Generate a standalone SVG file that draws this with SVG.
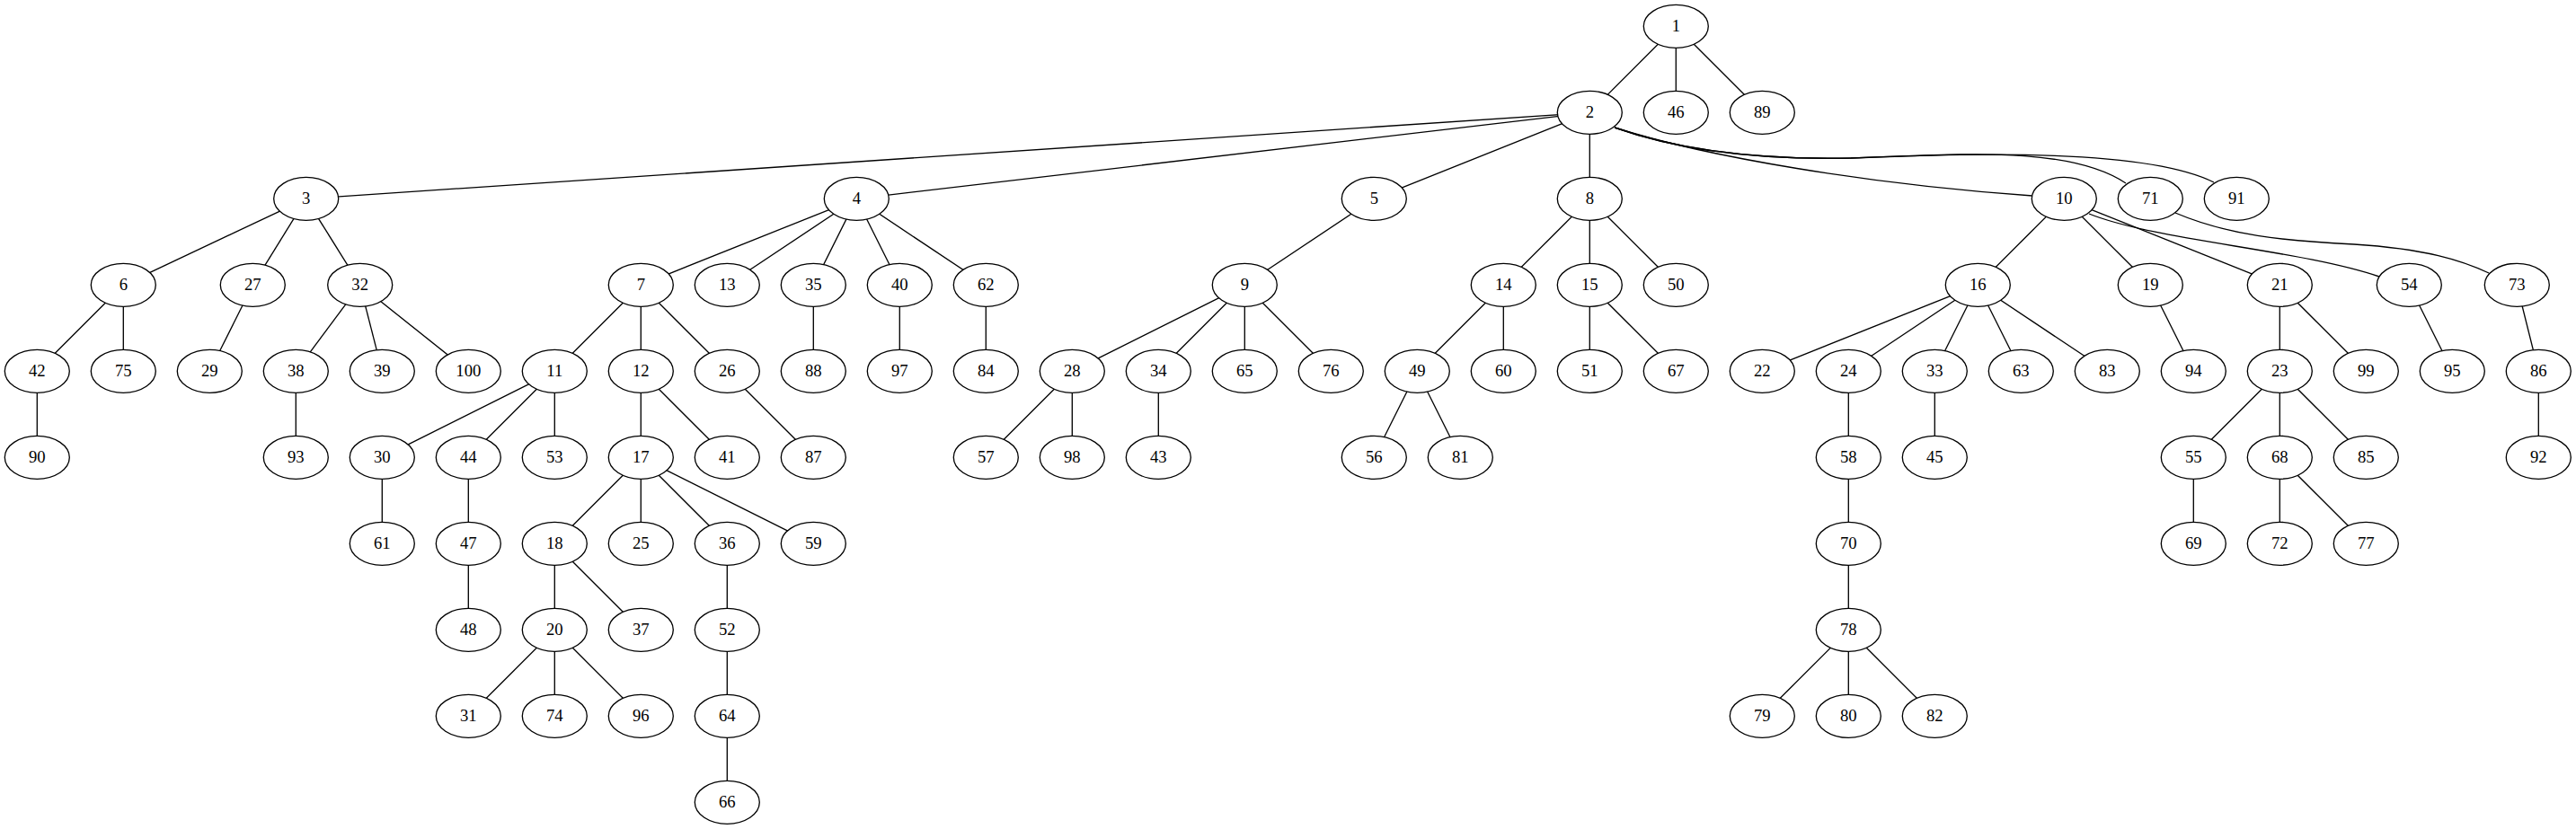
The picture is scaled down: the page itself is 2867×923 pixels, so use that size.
<svg xmlns="http://www.w3.org/2000/svg" width="2867" height="923" viewBox="0 0 2867 923">
<style>
.e line,.e path{stroke:#000;stroke-width:1.33;fill:none}
.n ellipse{fill:#fff;stroke:#000;stroke-width:1.33}
.n text{font-family:"Liberation Serif","Times New Roman",serif;font-size:18.67px;text-anchor:middle;fill:#000}
</style>
<rect width="2867" height="923" fill="#fff"/>
<g id="connectors" class="e">
<line x1="1865.3" y1="29.3" x2="1769.3" y2="125.3"/>
<line x1="1865.3" y1="29.3" x2="1865.3" y2="125.3"/>
<line x1="1865.3" y1="29.3" x2="1961.3" y2="125.3"/>
<line x1="1769.3" y1="125.3" x2="340.7" y2="221.3"/>
<line x1="1769.3" y1="125.3" x2="953.3" y2="221.3"/>
<line x1="1769.3" y1="125.3" x2="1529.3" y2="221.3"/>
<line x1="1769.3" y1="125.3" x2="1769.3" y2="221.3"/>
<path d="M1797,142 C1900,175 2080,205 2262,218"/>
<path d="M1797,142 C1870,168 1960,178 2060,176 C2170,173 2300,160 2366,204"/>
<path d="M1797,142 C1870,168 1960,178 2060,176 C2200,170 2390,166 2464,203"/>
<line x1="340.7" y1="221.3" x2="137.3" y2="317.3"/>
<line x1="340.7" y1="221.3" x2="281.3" y2="317.3"/>
<line x1="340.7" y1="221.3" x2="400.7" y2="317.3"/>
<line x1="953.3" y1="221.3" x2="713.3" y2="317.3"/>
<line x1="953.3" y1="221.3" x2="809.3" y2="317.3"/>
<line x1="953.3" y1="221.3" x2="905.3" y2="317.3"/>
<line x1="953.3" y1="221.3" x2="1001.3" y2="317.3"/>
<line x1="953.3" y1="221.3" x2="1097.3" y2="317.3"/>
<line x1="1529.3" y1="221.3" x2="1385.3" y2="317.3"/>
<line x1="1769.3" y1="221.3" x2="1673.3" y2="317.3"/>
<line x1="1769.3" y1="221.3" x2="1769.3" y2="317.3"/>
<line x1="1769.3" y1="221.3" x2="1865.3" y2="317.3"/>
<line x1="2297.3" y1="221.3" x2="2201.3" y2="317.3"/>
<line x1="2297.3" y1="221.3" x2="2393.3" y2="317.3"/>
<line x1="2297.3" y1="221.3" x2="2537.3" y2="317.3"/>
<path d="M2325,238 C2400,268 2560,278 2648,308"/>
<path d="M2421,237 C2480,262 2540,268 2620,272 C2700,277 2740,290 2770,304"/>
<line x1="137.3" y1="317.3" x2="41.3" y2="413.3"/>
<line x1="137.3" y1="317.3" x2="137.3" y2="413.3"/>
<line x1="281.3" y1="317.3" x2="233.3" y2="413.3"/>
<line x1="400.7" y1="317.3" x2="329.3" y2="413.3"/>
<line x1="400.7" y1="317.3" x2="425.3" y2="413.3"/>
<line x1="400.7" y1="317.3" x2="521.3" y2="413.3"/>
<line x1="713.3" y1="317.3" x2="617.3" y2="413.3"/>
<line x1="713.3" y1="317.3" x2="713.3" y2="413.3"/>
<line x1="713.3" y1="317.3" x2="809.3" y2="413.3"/>
<line x1="905.3" y1="317.3" x2="905.3" y2="413.3"/>
<line x1="1001.3" y1="317.3" x2="1001.3" y2="413.3"/>
<line x1="1097.3" y1="317.3" x2="1097.3" y2="413.3"/>
<line x1="1385.3" y1="317.3" x2="1193.3" y2="413.3"/>
<line x1="1385.3" y1="317.3" x2="1289.3" y2="413.3"/>
<line x1="1385.3" y1="317.3" x2="1385.3" y2="413.3"/>
<line x1="1385.3" y1="317.3" x2="1481.3" y2="413.3"/>
<line x1="1673.3" y1="317.3" x2="1577.3" y2="413.3"/>
<line x1="1673.3" y1="317.3" x2="1673.3" y2="413.3"/>
<line x1="1769.3" y1="317.3" x2="1769.3" y2="413.3"/>
<line x1="1769.3" y1="317.3" x2="1865.3" y2="413.3"/>
<line x1="2201.3" y1="317.3" x2="1961.3" y2="413.3"/>
<line x1="2201.3" y1="317.3" x2="2057.3" y2="413.3"/>
<line x1="2201.3" y1="317.3" x2="2153.3" y2="413.3"/>
<line x1="2201.3" y1="317.3" x2="2249.3" y2="413.3"/>
<line x1="2201.3" y1="317.3" x2="2345.3" y2="413.3"/>
<line x1="2393.3" y1="317.3" x2="2441.3" y2="413.3"/>
<line x1="2537.3" y1="317.3" x2="2537.3" y2="413.3"/>
<line x1="2537.3" y1="317.3" x2="2633.3" y2="413.3"/>
<line x1="2681.3" y1="317.3" x2="2729.3" y2="413.3"/>
<line x1="2801.3" y1="317.3" x2="2825.3" y2="413.3"/>
<line x1="41.3" y1="413.3" x2="41.3" y2="509.3"/>
<line x1="329.3" y1="413.3" x2="329.3" y2="509.3"/>
<line x1="617.3" y1="413.3" x2="425.3" y2="509.3"/>
<line x1="617.3" y1="413.3" x2="521.3" y2="509.3"/>
<line x1="617.3" y1="413.3" x2="617.3" y2="509.3"/>
<line x1="713.3" y1="413.3" x2="713.3" y2="509.3"/>
<line x1="713.3" y1="413.3" x2="809.3" y2="509.3"/>
<line x1="809.3" y1="413.3" x2="905.3" y2="509.3"/>
<line x1="1193.3" y1="413.3" x2="1097.3" y2="509.3"/>
<line x1="1193.3" y1="413.3" x2="1193.3" y2="509.3"/>
<line x1="1289.3" y1="413.3" x2="1289.3" y2="509.3"/>
<line x1="1577.3" y1="413.3" x2="1529.3" y2="509.3"/>
<line x1="1577.3" y1="413.3" x2="1625.3" y2="509.3"/>
<line x1="2057.3" y1="413.3" x2="2057.3" y2="509.3"/>
<line x1="2153.3" y1="413.3" x2="2153.3" y2="509.3"/>
<line x1="2537.3" y1="413.3" x2="2441.3" y2="509.3"/>
<line x1="2537.3" y1="413.3" x2="2537.3" y2="509.3"/>
<line x1="2537.3" y1="413.3" x2="2633.3" y2="509.3"/>
<line x1="2825.3" y1="413.3" x2="2825.3" y2="509.3"/>
<line x1="425.3" y1="509.3" x2="425.3" y2="605.3"/>
<line x1="521.3" y1="509.3" x2="521.3" y2="605.3"/>
<line x1="713.3" y1="509.3" x2="617.3" y2="605.3"/>
<line x1="713.3" y1="509.3" x2="713.3" y2="605.3"/>
<line x1="713.3" y1="509.3" x2="809.3" y2="605.3"/>
<line x1="713.3" y1="509.3" x2="905.3" y2="605.3"/>
<line x1="2057.3" y1="509.3" x2="2057.3" y2="605.3"/>
<line x1="2441.3" y1="509.3" x2="2441.3" y2="605.3"/>
<line x1="2537.3" y1="509.3" x2="2537.3" y2="605.3"/>
<line x1="2537.3" y1="509.3" x2="2633.3" y2="605.3"/>
<line x1="521.3" y1="605.3" x2="521.3" y2="701.3"/>
<line x1="617.3" y1="605.3" x2="617.3" y2="701.3"/>
<line x1="617.3" y1="605.3" x2="713.3" y2="701.3"/>
<line x1="809.3" y1="605.3" x2="809.3" y2="701.3"/>
<line x1="2057.3" y1="605.3" x2="2057.3" y2="701.3"/>
<line x1="617.3" y1="701.3" x2="521.3" y2="797.3"/>
<line x1="617.3" y1="701.3" x2="617.3" y2="797.3"/>
<line x1="617.3" y1="701.3" x2="713.3" y2="797.3"/>
<line x1="809.3" y1="701.3" x2="809.3" y2="797.3"/>
<line x1="2057.3" y1="701.3" x2="1961.3" y2="797.3"/>
<line x1="2057.3" y1="701.3" x2="2057.3" y2="797.3"/>
<line x1="2057.3" y1="701.3" x2="2153.3" y2="797.3"/>
<line x1="809.3" y1="797.3" x2="809.3" y2="893.3"/>
</g>
<g class="n">
<g id="n1"><ellipse cx="1865.3" cy="29.3" rx="36" ry="24"/><text x="1865.3" y="34.8">1</text></g>
<g id="n2"><ellipse cx="1769.3" cy="125.3" rx="36" ry="24"/><text x="1769.3" y="130.8">2</text></g>
<g id="n46"><ellipse cx="1865.3" cy="125.3" rx="36" ry="24"/><text x="1865.3" y="130.8">46</text></g>
<g id="n89"><ellipse cx="1961.3" cy="125.3" rx="36" ry="24"/><text x="1961.3" y="130.8">89</text></g>
<g id="n3"><ellipse cx="340.7" cy="221.3" rx="36" ry="24"/><text x="340.7" y="226.8">3</text></g>
<g id="n4"><ellipse cx="953.3" cy="221.3" rx="36" ry="24"/><text x="953.3" y="226.8">4</text></g>
<g id="n5"><ellipse cx="1529.3" cy="221.3" rx="36" ry="24"/><text x="1529.3" y="226.8">5</text></g>
<g id="n8"><ellipse cx="1769.3" cy="221.3" rx="36" ry="24"/><text x="1769.3" y="226.8">8</text></g>
<g id="n10"><ellipse cx="2297.3" cy="221.3" rx="36" ry="24"/><text x="2297.3" y="226.8">10</text></g>
<g id="n71"><ellipse cx="2393.3" cy="221.3" rx="36" ry="24"/><text x="2393.3" y="226.8">71</text></g>
<g id="n91"><ellipse cx="2489.3" cy="221.3" rx="36" ry="24"/><text x="2489.3" y="226.8">91</text></g>
<g id="n6"><ellipse cx="137.3" cy="317.3" rx="36" ry="24"/><text x="137.3" y="322.8">6</text></g>
<g id="n27"><ellipse cx="281.3" cy="317.3" rx="36" ry="24"/><text x="281.3" y="322.8">27</text></g>
<g id="n32"><ellipse cx="400.7" cy="317.3" rx="36" ry="24"/><text x="400.7" y="322.8">32</text></g>
<g id="n7"><ellipse cx="713.3" cy="317.3" rx="36" ry="24"/><text x="713.3" y="322.8">7</text></g>
<g id="n13"><ellipse cx="809.3" cy="317.3" rx="36" ry="24"/><text x="809.3" y="322.8">13</text></g>
<g id="n35"><ellipse cx="905.3" cy="317.3" rx="36" ry="24"/><text x="905.3" y="322.8">35</text></g>
<g id="n40"><ellipse cx="1001.3" cy="317.3" rx="36" ry="24"/><text x="1001.3" y="322.8">40</text></g>
<g id="n62"><ellipse cx="1097.3" cy="317.3" rx="36" ry="24"/><text x="1097.3" y="322.8">62</text></g>
<g id="n9"><ellipse cx="1385.3" cy="317.3" rx="36" ry="24"/><text x="1385.3" y="322.8">9</text></g>
<g id="n14"><ellipse cx="1673.3" cy="317.3" rx="36" ry="24"/><text x="1673.3" y="322.8">14</text></g>
<g id="n15"><ellipse cx="1769.3" cy="317.3" rx="36" ry="24"/><text x="1769.3" y="322.8">15</text></g>
<g id="n50"><ellipse cx="1865.3" cy="317.3" rx="36" ry="24"/><text x="1865.3" y="322.8">50</text></g>
<g id="n16"><ellipse cx="2201.3" cy="317.3" rx="36" ry="24"/><text x="2201.3" y="322.8">16</text></g>
<g id="n19"><ellipse cx="2393.3" cy="317.3" rx="36" ry="24"/><text x="2393.3" y="322.8">19</text></g>
<g id="n21"><ellipse cx="2537.3" cy="317.3" rx="36" ry="24"/><text x="2537.3" y="322.8">21</text></g>
<g id="n54"><ellipse cx="2681.3" cy="317.3" rx="36" ry="24"/><text x="2681.3" y="322.8">54</text></g>
<g id="n73"><ellipse cx="2801.3" cy="317.3" rx="36" ry="24"/><text x="2801.3" y="322.8">73</text></g>
<g id="n42"><ellipse cx="41.3" cy="413.3" rx="36" ry="24"/><text x="41.3" y="418.8">42</text></g>
<g id="n75"><ellipse cx="137.3" cy="413.3" rx="36" ry="24"/><text x="137.3" y="418.8">75</text></g>
<g id="n29"><ellipse cx="233.3" cy="413.3" rx="36" ry="24"/><text x="233.3" y="418.8">29</text></g>
<g id="n38"><ellipse cx="329.3" cy="413.3" rx="36" ry="24"/><text x="329.3" y="418.8">38</text></g>
<g id="n39"><ellipse cx="425.3" cy="413.3" rx="36" ry="24"/><text x="425.3" y="418.8">39</text></g>
<g id="n100"><ellipse cx="521.3" cy="413.3" rx="36" ry="24"/><text x="521.3" y="418.8">100</text></g>
<g id="n11"><ellipse cx="617.3" cy="413.3" rx="36" ry="24"/><text x="617.3" y="418.8">11</text></g>
<g id="n12"><ellipse cx="713.3" cy="413.3" rx="36" ry="24"/><text x="713.3" y="418.8">12</text></g>
<g id="n26"><ellipse cx="809.3" cy="413.3" rx="36" ry="24"/><text x="809.3" y="418.8">26</text></g>
<g id="n88"><ellipse cx="905.3" cy="413.3" rx="36" ry="24"/><text x="905.3" y="418.8">88</text></g>
<g id="n97"><ellipse cx="1001.3" cy="413.3" rx="36" ry="24"/><text x="1001.3" y="418.8">97</text></g>
<g id="n84"><ellipse cx="1097.3" cy="413.3" rx="36" ry="24"/><text x="1097.3" y="418.8">84</text></g>
<g id="n28"><ellipse cx="1193.3" cy="413.3" rx="36" ry="24"/><text x="1193.3" y="418.8">28</text></g>
<g id="n34"><ellipse cx="1289.3" cy="413.3" rx="36" ry="24"/><text x="1289.3" y="418.8">34</text></g>
<g id="n65"><ellipse cx="1385.3" cy="413.3" rx="36" ry="24"/><text x="1385.3" y="418.8">65</text></g>
<g id="n76"><ellipse cx="1481.3" cy="413.3" rx="36" ry="24"/><text x="1481.3" y="418.8">76</text></g>
<g id="n49"><ellipse cx="1577.3" cy="413.3" rx="36" ry="24"/><text x="1577.3" y="418.8">49</text></g>
<g id="n60"><ellipse cx="1673.3" cy="413.3" rx="36" ry="24"/><text x="1673.3" y="418.8">60</text></g>
<g id="n51"><ellipse cx="1769.3" cy="413.3" rx="36" ry="24"/><text x="1769.3" y="418.8">51</text></g>
<g id="n67"><ellipse cx="1865.3" cy="413.3" rx="36" ry="24"/><text x="1865.3" y="418.8">67</text></g>
<g id="n22"><ellipse cx="1961.3" cy="413.3" rx="36" ry="24"/><text x="1961.3" y="418.8">22</text></g>
<g id="n24"><ellipse cx="2057.3" cy="413.3" rx="36" ry="24"/><text x="2057.3" y="418.8">24</text></g>
<g id="n33"><ellipse cx="2153.3" cy="413.3" rx="36" ry="24"/><text x="2153.3" y="418.8">33</text></g>
<g id="n63"><ellipse cx="2249.3" cy="413.3" rx="36" ry="24"/><text x="2249.3" y="418.8">63</text></g>
<g id="n83"><ellipse cx="2345.3" cy="413.3" rx="36" ry="24"/><text x="2345.3" y="418.8">83</text></g>
<g id="n94"><ellipse cx="2441.3" cy="413.3" rx="36" ry="24"/><text x="2441.3" y="418.8">94</text></g>
<g id="n23"><ellipse cx="2537.3" cy="413.3" rx="36" ry="24"/><text x="2537.3" y="418.8">23</text></g>
<g id="n99"><ellipse cx="2633.3" cy="413.3" rx="36" ry="24"/><text x="2633.3" y="418.8">99</text></g>
<g id="n95"><ellipse cx="2729.3" cy="413.3" rx="36" ry="24"/><text x="2729.3" y="418.8">95</text></g>
<g id="n86"><ellipse cx="2825.3" cy="413.3" rx="36" ry="24"/><text x="2825.3" y="418.8">86</text></g>
<g id="n90"><ellipse cx="41.3" cy="509.3" rx="36" ry="24"/><text x="41.3" y="514.8">90</text></g>
<g id="n93"><ellipse cx="329.3" cy="509.3" rx="36" ry="24"/><text x="329.3" y="514.8">93</text></g>
<g id="n30"><ellipse cx="425.3" cy="509.3" rx="36" ry="24"/><text x="425.3" y="514.8">30</text></g>
<g id="n44"><ellipse cx="521.3" cy="509.3" rx="36" ry="24"/><text x="521.3" y="514.8">44</text></g>
<g id="n53"><ellipse cx="617.3" cy="509.3" rx="36" ry="24"/><text x="617.3" y="514.8">53</text></g>
<g id="n17"><ellipse cx="713.3" cy="509.3" rx="36" ry="24"/><text x="713.3" y="514.8">17</text></g>
<g id="n41"><ellipse cx="809.3" cy="509.3" rx="36" ry="24"/><text x="809.3" y="514.8">41</text></g>
<g id="n87"><ellipse cx="905.3" cy="509.3" rx="36" ry="24"/><text x="905.3" y="514.8">87</text></g>
<g id="n57"><ellipse cx="1097.3" cy="509.3" rx="36" ry="24"/><text x="1097.3" y="514.8">57</text></g>
<g id="n98"><ellipse cx="1193.3" cy="509.3" rx="36" ry="24"/><text x="1193.3" y="514.8">98</text></g>
<g id="n43"><ellipse cx="1289.3" cy="509.3" rx="36" ry="24"/><text x="1289.3" y="514.8">43</text></g>
<g id="n56"><ellipse cx="1529.3" cy="509.3" rx="36" ry="24"/><text x="1529.3" y="514.8">56</text></g>
<g id="n81"><ellipse cx="1625.3" cy="509.3" rx="36" ry="24"/><text x="1625.3" y="514.8">81</text></g>
<g id="n58"><ellipse cx="2057.3" cy="509.3" rx="36" ry="24"/><text x="2057.3" y="514.8">58</text></g>
<g id="n45"><ellipse cx="2153.3" cy="509.3" rx="36" ry="24"/><text x="2153.3" y="514.8">45</text></g>
<g id="n55"><ellipse cx="2441.3" cy="509.3" rx="36" ry="24"/><text x="2441.3" y="514.8">55</text></g>
<g id="n68"><ellipse cx="2537.3" cy="509.3" rx="36" ry="24"/><text x="2537.3" y="514.8">68</text></g>
<g id="n85"><ellipse cx="2633.3" cy="509.3" rx="36" ry="24"/><text x="2633.3" y="514.8">85</text></g>
<g id="n92"><ellipse cx="2825.3" cy="509.3" rx="36" ry="24"/><text x="2825.3" y="514.8">92</text></g>
<g id="n61"><ellipse cx="425.3" cy="605.3" rx="36" ry="24"/><text x="425.3" y="610.8">61</text></g>
<g id="n47"><ellipse cx="521.3" cy="605.3" rx="36" ry="24"/><text x="521.3" y="610.8">47</text></g>
<g id="n18"><ellipse cx="617.3" cy="605.3" rx="36" ry="24"/><text x="617.3" y="610.8">18</text></g>
<g id="n25"><ellipse cx="713.3" cy="605.3" rx="36" ry="24"/><text x="713.3" y="610.8">25</text></g>
<g id="n36"><ellipse cx="809.3" cy="605.3" rx="36" ry="24"/><text x="809.3" y="610.8">36</text></g>
<g id="n59"><ellipse cx="905.3" cy="605.3" rx="36" ry="24"/><text x="905.3" y="610.8">59</text></g>
<g id="n70"><ellipse cx="2057.3" cy="605.3" rx="36" ry="24"/><text x="2057.3" y="610.8">70</text></g>
<g id="n69"><ellipse cx="2441.3" cy="605.3" rx="36" ry="24"/><text x="2441.3" y="610.8">69</text></g>
<g id="n72"><ellipse cx="2537.3" cy="605.3" rx="36" ry="24"/><text x="2537.3" y="610.8">72</text></g>
<g id="n77"><ellipse cx="2633.3" cy="605.3" rx="36" ry="24"/><text x="2633.3" y="610.8">77</text></g>
<g id="n48"><ellipse cx="521.3" cy="701.3" rx="36" ry="24"/><text x="521.3" y="706.8">48</text></g>
<g id="n20"><ellipse cx="617.3" cy="701.3" rx="36" ry="24"/><text x="617.3" y="706.8">20</text></g>
<g id="n37"><ellipse cx="713.3" cy="701.3" rx="36" ry="24"/><text x="713.3" y="706.8">37</text></g>
<g id="n52"><ellipse cx="809.3" cy="701.3" rx="36" ry="24"/><text x="809.3" y="706.8">52</text></g>
<g id="n78"><ellipse cx="2057.3" cy="701.3" rx="36" ry="24"/><text x="2057.3" y="706.8">78</text></g>
<g id="n31"><ellipse cx="521.3" cy="797.3" rx="36" ry="24"/><text x="521.3" y="802.8">31</text></g>
<g id="n74"><ellipse cx="617.3" cy="797.3" rx="36" ry="24"/><text x="617.3" y="802.8">74</text></g>
<g id="n96"><ellipse cx="713.3" cy="797.3" rx="36" ry="24"/><text x="713.3" y="802.8">96</text></g>
<g id="n64"><ellipse cx="809.3" cy="797.3" rx="36" ry="24"/><text x="809.3" y="802.8">64</text></g>
<g id="n79"><ellipse cx="1961.3" cy="797.3" rx="36" ry="24"/><text x="1961.3" y="802.8">79</text></g>
<g id="n80"><ellipse cx="2057.3" cy="797.3" rx="36" ry="24"/><text x="2057.3" y="802.8">80</text></g>
<g id="n82"><ellipse cx="2153.3" cy="797.3" rx="36" ry="24"/><text x="2153.3" y="802.8">82</text></g>
<g id="n66"><ellipse cx="809.3" cy="893.3" rx="36" ry="24"/><text x="809.3" y="898.8">66</text></g>
</g>
</svg>
